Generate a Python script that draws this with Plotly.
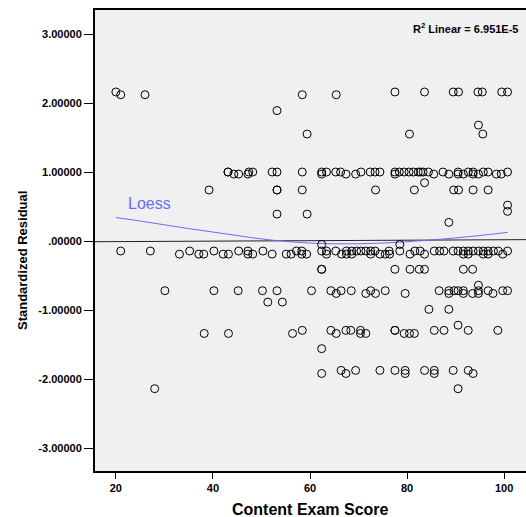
import plotly.graph_objects as go

# ---- data ----
score = [
    # ~2.1 band
    20, 77.5, 83.6, 89.5, 90.6, 94.6, 95.5, 99.5, 100.7,
    21, 26, 58.4, 65.4,
    53.2, 59.4, 80.5, 95.6, 94.7,
    # ~1.0 band
    43.1, 43.1, 47.4, 48.2, 52.2, 53.2, 58.4, 62.4, 63.4, 65.3, 66.3, 70.5, 72.4, 73.4,
    74.4, 77.5, 78.4, 79.4, 80.4, 81.3, 82.3, 82.8, 83.3, 84.4, 87.4, 90.5, 92.6, 93.6,
    95.7, 96.7, 100.7,
    44.3, 45.3, 47.2, 62.4, 67.4, 69.4, 77.5, 85.5, 88.6, 90.5, 91.6, 93.6, 94.7, 98.4, 99.4,
    # ~0.74 band
    39.2, 53.2, 53.2, 58.4, 73.5, 81.5, 89.6, 90.6, 93.6, 96.7, 83.6,
    53.2, 59.4, 100.7, 100.7, 88.6,
    # ~0 band
    21.0, 27.1, 33.1, 35.2, 37.1, 38.1, 40.2, 42.1, 43.2, 45.3, 47.2, 47.2, 48.2, 50.3,
    52.2, 55.1, 56.1, 57.2, 58.3, 58.3, 59.3,
    62.4, 62.4, 63.4, 63.4, 65.3, 66.5, 67.5, 67.5, 68.6, 68.6, 69.6, 70.5, 71.5, 72.5,
    72.5, 73.4, 74.4, 75.5, 76.3, 76.4, 78.5, 78.5, 80.6, 81.6, 82.7, 83.6, 85.6, 86.7,
    87.6, 89.5, 90.5, 91.6, 91.6, 92.6, 92.6, 93.6, 94.7, 95.7, 95.7, 96.7, 96.7, 97.8,
    98.8, 99.7, 100.7,
    # ~-0.4 band
    62.4, 62.4, 77.5, 80.6, 82.5, 83.6, 91.6, 93.5,
    # ~-0.72 band
    30.1, 40.2, 45.2, 50.2, 53.2, 60.3, 64.3, 66.4, 68.5, 72.5, 75.5, 86.6, 88.6, 89.7,
    90.5, 91.6, 94.7, 96.7, 99.7, 100.7,
    65.4, 71.5, 73.5, 79.6, 88.6, 91.6, 93.5, 94.7, 97.7,
    94.7, 51.3, 54.3, 84.5, 88.6,
    # ~-1.3 band
    58.4, 64.3, 67.4, 68.4, 70.4, 77.5, 77.5, 85.6, 87.6, 92.6, 98.7,
    38.2, 43.2, 56.4, 65.4, 70.4, 71.5, 79.4, 80.5, 81.5,
    90.5, 62.4,
    # ~-1.9 band
    66.4, 69.4, 74.4, 77.5, 79.6, 83.6, 85.6, 89.5, 92.6,
    62.4, 67.4, 79.6, 85.6, 93.6,
    28.0, 90.5,
]

residual = (
    [2.16] * 9 + [2.12] * 4 + [1.89, 1.55, 1.55, 1.55, 1.68]
    + [1.00] * 31 + [0.97] * 15
    + [0.74] * 10 + [0.845]
    + [0.39, 0.39, 0.52, 0.43, 0.27]
    + [-0.145, -0.145, -0.19, -0.145, -0.19, -0.19, -0.145, -0.19, -0.19, -0.145,
       -0.145, -0.19, -0.19, -0.145, -0.19, -0.19, -0.19, -0.145, -0.145, -0.19, -0.19]
    + [-0.05, -0.145, -0.145, -0.19, -0.145, -0.19, -0.145, -0.19, -0.19, -0.145,
       -0.145, -0.145, -0.145, -0.145, -0.19, -0.145, -0.19, -0.19, -0.145, -0.19,
       -0.05, -0.145, -0.19, -0.145, -0.145, -0.19, -0.145, -0.145, -0.145, -0.145,
       -0.145, -0.145, -0.19, -0.145, -0.19, -0.145, -0.145, -0.145, -0.19, -0.145,
       -0.19, -0.145, -0.145, -0.19, -0.145]
    + [-0.41] * 8
    + [-0.72] * 20 + [-0.76] * 9
    + [-0.64, -0.885, -0.885, -0.99, -0.99]
    + [-1.295] * 11 + [-1.34] * 9
    + [-1.22, -1.56]
    + [-1.875] * 9 + [-1.92] * 5
    + [-2.14, -2.14]
)

# Loess smooth
loess_x = [20, 25, 30, 35, 40, 45, 50, 55, 60, 65, 70, 75, 80, 85, 90, 95, 100.7]
loess_y = [0.34, 0.29, 0.235, 0.18, 0.13, 0.08, 0.03, -0.005, -0.03, -0.04, -0.04,
           -0.03, -0.01, 0.015, 0.045, 0.08, 0.125]

# Linear fit line (total)
fit_x = [15.7, 104.5]
fit_y = [-0.01, 0.02]

y_tickvals = [-3, -2, -1, 0, 1, 2, 3]
y_ticktext = ["-3.00000", "-2.00000", "-1.00000", ".00000", "1.00000", "2.00000", "3.00000"]
x_tickvals = [20, 40, 60, 80, 100]

FONT = "Liberation Sans, Arial, Helvetica, sans-serif"

fig = go.Figure()
fig.add_trace(go.Scatter(x=fit_x, y=fit_y, mode="lines",
                         line=dict(color="#222222", width=1), hoverinfo="skip"))
fig.add_trace(go.Scatter(x=loess_x, y=loess_y, mode="lines", line_shape="spline",
                         line=dict(color="#6b6bf5", width=1), hoverinfo="skip"))
fig.add_trace(go.Scatter(x=score, y=residual, mode="markers",
                         marker=dict(symbol="circle-open", size=8,
                                     line=dict(color="black", width=1), color="black")))

fig.update_layout(
    width=526, height=517,
    margin=dict(l=95, r=0, t=10, b=46),
    paper_bgcolor="white", plot_bgcolor="#f0f0f0",
    showlegend=False,
    font=dict(family=FONT, color="black"),
)
fig.update_xaxes(
    range=[15.7, 104.5], tickvals=x_tickvals, ticks="outside", ticklen=6,
    tickwidth=1, tickcolor="black",
    tickfont=dict(size=11, weight=700, family=FONT),
    showgrid=False, zeroline=False, showline=True, linecolor="black", linewidth=2,
    mirror=True,
)
fig.update_yaxes(
    range=[-3.333, 3.348], tickvals=y_tickvals, ticktext=y_ticktext,
    ticks="outside", ticklen=9, tickwidth=1, tickcolor="black",
    tickfont=dict(size=11, weight=700, family=FONT),
    showgrid=False, zeroline=False, showline=True, linecolor="black", linewidth=2,
)

fig.add_annotation(text="Content Exam Score", xref="x", yref="paper", x=60, y=0,
                   yshift=-38, yanchor="middle", xanchor="center", showarrow=False,
                   font=dict(size=16, weight=700, family=FONT))
fig.add_annotation(text="Standardized Residual", xref="paper", yref="y", x=0, y=-0.29,
                   xshift=-73, textangle=-90, xanchor="center", yanchor="middle",
                   showarrow=False, font=dict(size=13, weight=700, family=FONT))
fig.add_annotation(text="Loess", xref="x", yref="y", x=26.9, y=0.54,
                   showarrow=False, xanchor="center", yanchor="middle",
                   font=dict(size=16, color="#6b6bf5", family=FONT))
fig.add_annotation(text="R<sup>2</sup> Linear = 6.951E-5", xref="paper", yref="paper",
                   x=1, y=0.96, xshift=-6, xanchor="right", yanchor="middle",
                   showarrow=False, font=dict(size=11, weight=700, family=FONT))

fig.write_html("out.html")
